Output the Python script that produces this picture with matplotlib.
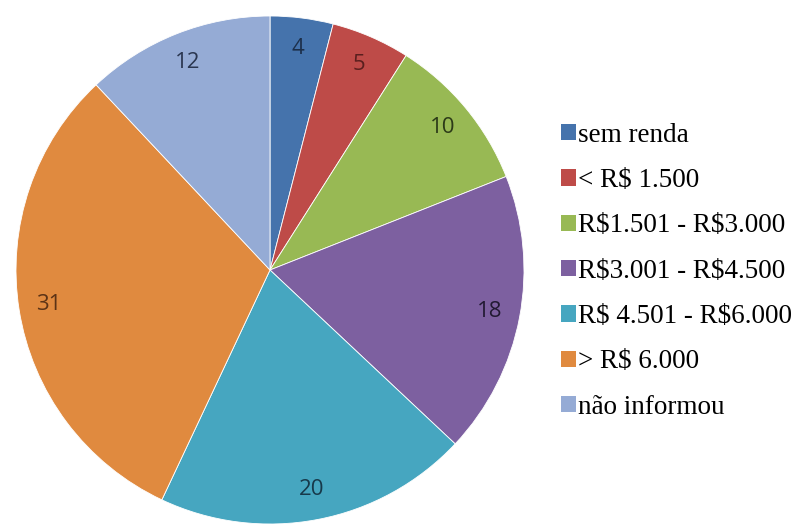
import matplotlib.pyplot as plt
import numpy as np

plt.rcParams['text.parse_math'] = False

categories = ['sem renda', '< R$ 1.500', 'R$1.501 - R$3.000', 'R$3.001 - R$4.500',
              'R$ 4.501 - R$6.000', '> R$ 6.000', 'não informou']
values = [4, 5, 10, 18, 20, 31, 12]
colors = ['#4573ac', '#be4b48', '#98b954', '#7d60a0', '#46a6c0', '#e08a3f', '#95abd5']
label_colors = ['#1c2f4a', '#5a1f1e', '#2c3a18', '#221a33', '#17394a', '#5c3316', '#2a3650']

fig = plt.figure(figsize=(7.96, 5.25), dpi=100)
ax = fig.add_axes([16/796, 1/525, 508/796, 508/525])

wedges, texts = ax.pie(values, colors=colors, startangle=90, counterclock=False,
                       labels=[str(v) for v in values], labeldistance=0.88,
                       wedgeprops=dict(edgecolor='white', linewidth=0.6))
for t, c in zip(texts, label_colors):
    t.set_color(c)
    t.set_fontsize(16)
    t.set_family('Open Sans')
    t.set_ha('center')
    t.set_va('center')
ax.set_xlim(-1, 1)
ax.set_ylim(-1, 1)
ax.set_aspect('equal')

leg = fig.legend(wedges, categories, loc='upper left', bbox_to_anchor=(550/796, 1 - 112/525),
                 frameon=False, prop={'family': 'Liberation Serif', 'size': 19.5},
                 handlelength=0.55, handleheight=0.55, handletextpad=0.1,
                 labelspacing=0.75, borderaxespad=0)
for h in leg.legend_handles:
    h.set_edgecolor('none')

fig.savefig('out.png', dpi=100)
